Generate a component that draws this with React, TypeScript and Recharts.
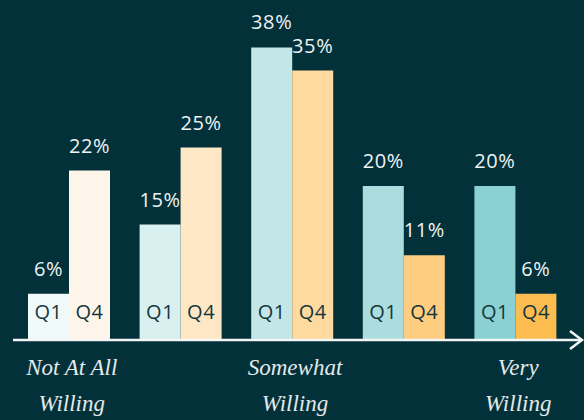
import { BarChart, Bar, XAxis, YAxis, Cell, LabelList } from "recharts";

const levels = ["1", "2", "3", "4", "5"];
const q1Values = [6, 15, 38, 20, 20];
const q4Values = [22, 25, 35, 11, 6];
const seriesNames = ["Q1", "Q4"];
const tickLabels: string[][] = [["Not At All", "Willing"], [], ["Somewhat", "Willing"], [], ["Very", "Willing"]];

const Q1_COLORS = ["#eff9f9", "#d9f0f0", "#c3e6e7", "#abdcde", "#8bd1d3"];
const Q4_COLORS = ["#fef5ea", "#fee7c5", "#fed9a0", "#ffcd80", "#fdbc50"];

const BG = "#03313a";
const TEXT = "#eef3f3";
const SANS = "'Open Sans', 'Noto Sans', sans-serif";

const data = levels.map((level, i) => ({ level, q1: q1Values[i], q4: q4Values[i] }));

function CategoryTick(props: any) {
  const { x, y, payload } = props;
  const lines = tickLabels[levels.indexOf(String(payload.value))] ?? [];
  return (
    <g>
      {lines.map((line, i) => (
        <text
          key={i}
          x={x + 3}
          y={y + 35 + i * 36}
          textAnchor="middle"
          fill="#e4e9e9"
          fontFamily="'Liberation Serif', serif"
          fontStyle="italic"
          fontSize={23}
        >
          {line}
        </text>
      ))}
    </g>
  );
}

const seriesLabel = (name: string) => (props: any) => {
  const vb = props.viewBox ?? props;
  const x = Number(vb.x ?? props.x);
  const y = Number(vb.y ?? props.y);
  const w = Number(vb.width ?? props.width);
  const h = Number(vb.height ?? props.height);
  return (
    <text
      x={x + w / 2}
      y={y + h - 21}
      textAnchor="middle"
      fill="#15363d"
      fontSize={20}
      letterSpacing={0.5}
      fontFamily={SANS}
    >
      {name}
    </text>
  );
};

export default function App() {
  return (
    <div style={{ width: 584, height: 420, background: BG }}>
      <style>{`body{margin:0}`}</style>
      <BarChart
        width={584}
        height={420}
        data={data}
        margin={{ top: 32, right: 2, left: 13, bottom: 0 }}
        barGap={0}
        barSize={41}
      >
        <defs>
          <marker
            id="axisArrow"
            markerWidth={16}
            markerHeight={22}
            refX={13}
            refY={10}
            orient="auto"
            markerUnits="userSpaceOnUse"
          >
            <path d="M1,1 L13,10 L1,19" fill="none" stroke="#f4f6f6" strokeWidth={2.5} />
          </marker>
        </defs>
        <XAxis
          dataKey="level"
          height={80}
          interval={0}
          tickLine={false}
          tickSize={0}
          tickMargin={0}
          padding={{ left: 0, right: 11 }}
          axisLine={{ stroke: "#f4f6f6", strokeWidth: 2.5, markerEnd: "url(#axisArrow)" }}
          tick={<CategoryTick />}
        />
        <YAxis hide domain={[0, 40]} />
        <Bar dataKey="q1" name={seriesNames[0]} isAnimationActive={false}>
          {data.map((d, i) => (
            <Cell key={d.level} fill={Q1_COLORS[i]} />
          ))}
          <LabelList
            dataKey="q1"
            position="top"
            offset={18}
            formatter={(v: any) => `${v}%`}
            fill={TEXT}
            fontSize={20}
            letterSpacing={0.6}
            fontFamily={SANS}
          />
          <LabelList dataKey="q1" content={seriesLabel(seriesNames[0])} />
        </Bar>
        <Bar dataKey="q4" name={seriesNames[1]} isAnimationActive={false}>
          {data.map((d, i) => (
            <Cell key={d.level} fill={Q4_COLORS[i]} />
          ))}
          <LabelList
            dataKey="q4"
            position="top"
            offset={18}
            formatter={(v: any) => `${v}%`}
            fill={TEXT}
            fontSize={20}
            letterSpacing={0.6}
            fontFamily={SANS}
          />
          <LabelList dataKey="q4" content={seriesLabel(seriesNames[1])} />
        </Bar>
      </BarChart>
    </div>
  );
}
